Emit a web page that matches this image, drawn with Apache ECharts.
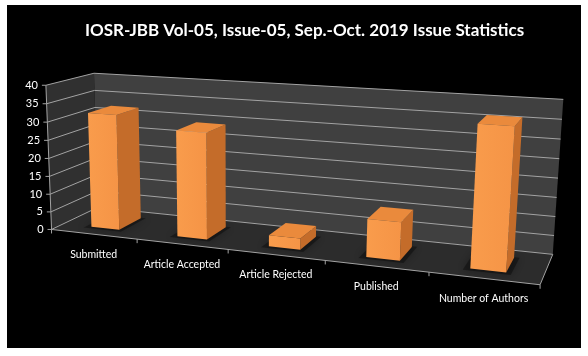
<!DOCTYPE html>
<html>
<head>
<meta charset="utf-8">
<script src="https://cdn.jsdelivr.net/npm/echarts@6/dist/echarts.min.js"></script>
<style>
  html, body { margin: 0; padding: 0; background: #ffffff; }
  #chart { width: 588px; height: 356px; }
</style>
</head>
<body>
<div id="chart"></div>
<script>
// ---------------- data ----------------
const titleText = 'IOSR-JBB Vol-05, Issue-05, Sep.-Oct. 2019 Issue Statistics';
const categories = ['Submitted', 'Article Accepted', 'Article Rejected', 'Published', 'Number of Authors'];
const values = [32, 29, 3, 10, 36];
const yTicks = [0, 5, 10, 15, 20, 25, 30, 35, 40];

// ---------------- layout ----------------
const GRID = { left: 44, top: 86, width: 497, height: 141 };
const GRID_BOTTOM = GRID.top + GRID.height;
// reference points of the 3D box: [X, Y, Z] (normalised) -> [px, py]
const CAL = [
  [0, 0, 0, 53, 227], [0, 1, 0, 44, 86], [1, 0, 0, 541, 285],
  [0, 0, 1, 96, 210], [0, 1, 1, 96, 72], [1, 0, 1, 553, 252], [1, 1, 1, 563, 100],
  [0.2, 0, 0, 138, 238], [0.4, 0, 0, 228, 250], [0.6, 0, 0, 325, 262], [0.8, 0, 0, 428, 273]
];

function fitProjection(cal) {
  const n = 11;
  const N = Array.from({ length: n }, () => new Array(n).fill(0));
  const r = new Array(n).fill(0);
  const add = (row, val) => {
    for (let a = 0; a < n; a++) {
      r[a] += row[a] * val;
      for (let b = 0; b < n; b++) N[a][b] += row[a] * row[b];
    }
  };
  cal.forEach(([X, Y, Z, u, v]) => {
    add([X, Y, Z, 1, 0, 0, 0, 0, -u * X, -u * Y, -u * Z], u);
    add([0, 0, 0, 0, X, Y, Z, 1, -v * X, -v * Y, -v * Z], v);
  });
  for (let k = 0; k < n; k++) {
    let p = k;
    for (let i = k + 1; i < n; i++) if (Math.abs(N[i][k]) > Math.abs(N[p][k])) p = i;
    [N[k], N[p]] = [N[p], N[k]]; [r[k], r[p]] = [r[p], r[k]];
    for (let i = k + 1; i < n; i++) {
      const f = N[i][k] / N[k][k];
      for (let j = k; j < n; j++) N[i][j] -= f * N[k][j];
      r[i] -= f * r[k];
    }
  }
  const x = new Array(n).fill(0);
  for (let k = n - 1; k >= 0; k--) {
    let s = r[k];
    for (let j = k + 1; j < n; j++) s -= N[k][j] * x[j];
    x[k] = s / N[k][k];
  }
  return x;
}
const PM = fitProjection(CAL);
function P(X, Y, Z) {
  const w = PM[8] * X + PM[9] * Y + PM[10] * Z + 1;
  return [(PM[0] * X + PM[1] * Y + PM[2] * Z + PM[3]) / w,
          (PM[4] * X + PM[5] * Y + PM[6] * Z + PM[7]) / w];
}
// convert library coordinates to normalised box coordinates
function normX(px) { return (px - GRID.left) / GRID.width; }
function normY(py) { return (GRID_BOTTOM - py) / GRID.height; }

const LINE = '#a3a3a3';
const FONT = 'Lato, "Liberation Sans", sans-serif';

function poly(pts, fill, extra) {
  return Object.assign({ type: 'polygon', shape: { points: pts }, style: { fill: fill } }, extra || {});
}
function line(a, b, color, w) {
  return { type: 'line', shape: { x1: a[0], y1: a[1], x2: b[0], y2: b[1] }, style: { stroke: color, lineWidth: w || 1 } };
}

function renderFrame(params, api) {
  const ch = [];
  ch.push(poly([P(0, 0, 0), P(1, 0, 0), P(1, 0, 1), P(0, 0, 1)], '#2c2c2c'));
  ch.push(poly([P(0, 0, 0), P(0, 0, 1), P(0, 1, 1), P(0, 1, 0)], '#303030'));
  ch.push(poly([P(0, 0, 1), P(1, 0, 1), P(1, 1, 1), P(0, 1, 1)], '#404040'));
  yTicks.forEach(t => {
    const Y = normY(api.coord([0, t])[1]);
    ch.push(line(P(0, Y, 0), P(0, Y, 1), LINE, 1));
    ch.push(line(P(0, Y, 1), P(1, Y, 1), LINE, 1));
    const a = P(0, Y, 0);
    ch.push(line([a[0] - 4, a[1]], a, LINE, 1));
  });
  ch.push(line(P(0, 0, 0), P(0, 1, 0), LINE, 1));
  ch.push(line(P(0, 0, 0), P(1, 0, 0), LINE, 1));
  ch.push(line(P(1, 0, 0), P(1, 0, 1), LINE, 1));
  for (let k = 0; k <= categories.length; k++) {
    const a = P(k / categories.length, 0, 0);
    ch.push(line(a, [a[0], a[1] + 4], LINE, 1));
  }
  return { type: 'group', children: ch };
}

function renderBar(params, api) {
  const i = api.value(0), v = api.value(1);
  const top = api.coord([i, v]);
  const base = api.coord([i, 0]);
  const cx = normX(top[0]);
  const Y = normY(top[1]) - normY(base[1]);
  const hw = api.size([1, 0])[0] / GRID.width * 0.165;
  const x0 = cx - hw, x1 = cx + hw, z0 = 0.25, z1 = 0.75;
  const ch = [];
  ch.push(poly([P(x0 - 0.012, 0, z0 - 0.06), P(x1 + 0.01, 0, z0 - 0.06), P(x1 + 0.01, 0, z1 + 0.02), P(x0 - 0.012, 0, z1 + 0.02)],
    'rgba(0,0,0,0.35)', { style: { fill: 'rgba(0,0,0,0.35)', shadowBlur: 8, shadowColor: 'rgba(0,0,0,0.8)' } }));
  ch.push(poly([P(x1, 0, z0), P(x1, 0, z1), P(x1, Y, z1), P(x1, Y, z0)], '#c46c2a'));
  ch.push(poly([P(x0, Y, z0), P(x1, Y, z0), P(x1, Y, z1), P(x0, Y, z1)], '#ea8a3c'));
  ch.push(poly([P(x0, 0, z0), P(x1, 0, z0), P(x1, Y, z0), P(x0, Y, z0)], {
    type: 'linear', x: 0, y: 0, x2: 1, y2: 0,
    colorStops: [{ offset: 0, color: '#f99c4c' }, { offset: 1, color: '#f59446' }]
  }));
  return { type: 'group', children: ch };
}

function renderCatLabel(params, api) {
  const i = api.value(0);
  const c = api.coord([i, 0]);
  const p = P(normX(c[0]), 0, 0);
  return {
    type: 'text', x: p[0], y: p[1] + 20,
    style: { text: categories[i], fill: '#ffffff', font: '10.5px ' + FONT, align: 'center', verticalAlign: 'middle' }
  };
}

function renderYLabel(params, api) {
  const t = api.value(1);
  const c = api.coord([0, t]);
  const p = P(0, normY(c[1]), 0);
  return {
    type: 'text', x: p[0] - 8, y: p[1],
    style: { text: String(t), fill: '#ffffff', font: '11px ' + FONT, align: 'right', verticalAlign: 'middle' }
  };
}

const chart = echarts.init(document.getElementById('chart'));
chart.setOption({
  backgroundColor: '#ffffff',
  animation: false,
  graphic: [{ type: 'rect', shape: { x: 7, y: 5, width: 574, height: 343 }, style: { fill: '#000000' }, z: -10 }],
  title: {
    text: titleText, left: 80, top: 17,
    textStyle: { color: '#ffffff', fontFamily: FONT, fontWeight: 'bold', fontSize: 17 }
  },
  grid: { left: GRID.left, top: GRID.top, width: GRID.width, height: GRID.height },
  xAxis: { type: 'category', data: categories, show: false },
  yAxis: { type: 'value', min: 0, max: 40, interval: 5, show: false },
  series: [
    { type: 'custom', z: 1, data: [[0, 0]], renderItem: renderFrame, silent: true },
    { type: 'custom', z: 2, data: values.map((v, i) => [i, v]), renderItem: renderBar },
    { type: 'custom', z: 3, data: categories.map((c, i) => [i, 0]), renderItem: renderCatLabel, silent: true },
    { type: 'custom', z: 3, data: yTicks.map(t => [0, t]), renderItem: renderYLabel, silent: true }
  ]
});
</script>
</body>
</html>
